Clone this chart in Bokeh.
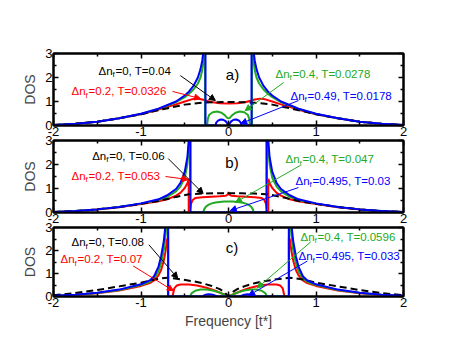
from bokeh.plotting import figure
from bokeh.layouts import column
from bokeh.models import (Range1d, LinearAxis, Label, Arrow, NormalHead, FixedTicker,
                          CustomLabelingPolicy)
from bokeh.embed import file_html
from bokeh.resources import INLINE

# ---------------- data ----------------
# Only the negative-frequency half is listed; the DOS is symmetric in frequency
# and the positive half is its mirror image.

# panel a)
w_a_black = [-2, -1.75, -1.5, -1.25, -1.0, -0.75, -0.5, -0.3, -0.15, 0]
d_a_black = [0.02, 0.07, 0.16, 0.3, 0.47, 0.68, 0.87, 0.95, 0.97, 0.98]
w_a_red = [-2, -1.75, -1.5, -1.25, -1.0, -0.8, -0.6, -0.5, -0.42, -0.36, -0.3, -0.2, -0.1, 0]
d_a_red = [0.02, 0.07, 0.16, 0.3, 0.47, 0.66, 0.88, 1.0, 1.09, 1.12, 1.08, 0.98, 0.93, 0.92]
w_a_green = [-2, -1.75, -1.5, -1.25, -1.0, -0.8, -0.6, -0.5, -0.45, -0.4, -0.35, -0.32, -0.3,
             -0.285, -0.275, -0.268, -0.268, -0.245, -0.235, -0.22, -0.18, -0.13, -0.08, -0.04, -0.015, 0]
d_a_green = [0.02, 0.07, 0.16, 0.3, 0.48, 0.69, 0.97, 1.18, 1.32, 1.5, 1.75, 2.0, 2.3,
             2.7, 3.2, 4.0, 0, 0, 0.3, 0.45, 0.55, 0.58, 0.53, 0.42, 0.32, 0.3]
w_a_blue = [-2, -1.75, -1.5, -1.25, -1.0, -0.8, -0.6, -0.5, -0.45, -0.4, -0.35, -0.32, -0.3,
            -0.28, -0.27, -0.263, -0.263, -0.15, -0.14, -0.12, -0.09, -0.06, -0.03, -0.01, 0]
d_a_blue = [0.02, 0.07, 0.16, 0.3, 0.49, 0.7, 1.0, 1.25, 1.42, 1.65, 2.0, 2.35, 2.7,
            3.3, 4.0, 6.0, 0, 0, 0.12, 0.2, 0.25, 0.24, 0.17, 0.06, 0.0]

# panel b)
w_b_black = [-2, -1.75, -1.5, -1.25, -1.0, -0.8, -0.6, -0.45, -0.3, -0.15, 0]
d_b_black = [0.02, 0.06, 0.13, 0.23, 0.36, 0.48, 0.65, 0.76, 0.79, 0.8, 0.8]
w_b_red = [-2, -1.75, -1.5, -1.25, -1.0, -0.8, -0.7, -0.6, -0.55, -0.5, -0.47, -0.455, -0.455,
           -0.445, -0.43, -0.41, -0.38, -0.3, -0.2, -0.1, -0.03, -0.01, 0]
d_b_red = [0.02, 0.05, 0.12, 0.22, 0.35, 0.47, 0.55, 0.7, 0.82, 1.02, 1.22, 1.4, 0,
           0, 0.35, 0.52, 0.6, 0.64, 0.66, 0.68, 0.7, 0.74, 0.85]
w_b_green = [-2, -1.75, -1.5, -1.25, -1.0, -0.8, -0.7, -0.6, -0.55, -0.5, -0.47, -0.455, -0.445,
             -0.44, -0.44, -0.29, -0.28, -0.26, -0.23, -0.2, -0.15, -0.1, -0.05, 0]
d_b_green = [0.02, 0.06, 0.13, 0.23, 0.37, 0.52, 0.65, 0.88, 1.08, 1.45, 2.0, 2.7, 3.5,
             5.0, 0, 0, 0.12, 0.24, 0.32, 0.37, 0.42, 0.44, 0.46, 0.46]
w_b_blue = [-2, -1.75, -1.5, -1.25, -1.0, -0.8, -0.7, -0.6, -0.55, -0.5, -0.47, -0.45, -0.44,
            -0.434, -0.434, 0]
d_b_blue = [0.02, 0.06, 0.13, 0.23, 0.38, 0.55, 0.72, 0.98, 1.22, 1.7, 2.3, 3.2, 4.5,
            6.0, 0, 0]

# panel c)
w_c_black = [-2, -1.75, -1.5, -1.25, -1.0, -0.85, -0.7, -0.55, -0.4, -0.3, -0.2, -0.1, -0.05, 0]
d_c_black = [0.05, 0.15, 0.28, 0.44, 0.6, 0.74, 0.82, 0.75, 0.66, 0.58, 0.47, 0.32, 0.2, 0.0]
w_c_red = [-2, -1.75, -1.5, -1.25, -1.0, -0.9, -0.85, -0.8, -0.77, -0.74, -0.72, -0.7, -0.69, -0.69,
           -0.64, -0.62, -0.59, -0.55, -0.45, -0.36, -0.25, -0.15, -0.07, 0]
d_c_red = [0.03, 0.07, 0.14, 0.26, 0.46, 0.58, 0.7, 0.92, 1.15, 1.55, 1.95, 2.5, 2.55, 0,
           0, 0.35, 0.48, 0.52, 0.52, 0.48, 0.38, 0.25, 0.12, 0]
w_c_green = [-2, -1.75, -1.5, -1.25, -1.0, -0.9, -0.85, -0.8, -0.77, -0.74, -0.72, -0.7, -0.69, -0.69,
             -0.44, -0.42, -0.38, -0.32, -0.25, -0.18, -0.1, -0.04, 0]
d_c_green = [0.03, 0.08, 0.15, 0.28, 0.5, 0.64, 0.78, 1.1, 1.45, 2.0, 2.6, 3.6, 5.0, 0,
             0, 0.15, 0.25, 0.3, 0.3, 0.26, 0.17, 0.07, 0]
w_c_blue = [-2, -1.75, -1.5, -1.25, -1.0, -0.9, -0.85, -0.8, -0.77, -0.74, -0.72, -0.705, -0.69, -0.69,
            -0.3, -0.28, -0.25, -0.22, -0.18, -0.15, -0.12, 0]
d_c_blue = [0.03, 0.08, 0.16, 0.3, 0.53, 0.7, 0.88, 1.3, 1.75, 2.4, 3.1, 4.2, 6.0, 0,
            0, 0.05, 0.09, 0.1, 0.08, 0.04, 0, 0]

x_ticks = [-2, -1, 0, 1, 2]
x_tick_labels = ["-2", "-1", "0", "1", "2"]
x_minor = [-1.5, -0.5, 0.5, 1.5]
y_ticks = [0, 1, 2, 3]
y_minor = [0.5, 1.5, 2.5]

panel_tags = ["a)", "b)", "c)"]
texts_a = ["=0, T=0.04", "=0.2, T=0.0326", "=0.4, T=0.0278", "=0.49, T=0.0178"]
texts_b = ["=0, T=0.06", "=0.2, T=0.053", "=0.4, T=0.047", "=0.495, T=0.03"]
texts_c = ["=0, T=0.08", "=0.2, T=0.07", "=0.4, T=0.0596", "=0.495, T=0.033"]

# ---------------- layout / styles ----------------
FONT = "Liberation Sans"
C_BLACK, C_RED, C_GREEN, C_BLUE = "#000000", "#ff0000", "#22aa22", "#0000ff"
label_colors = [C_BLACK, C_RED, C_GREEN, C_BLUE]

# annotation positions per panel: text (x, y), arrow start, arrow end (data units)
ann_a = [((-1.486, 2.29), (-0.55, 2.08), (-0.15, 1.04)),
         ((-1.794, 1.43), (-0.64, 1.42), (-0.32, 1.12)),
         ((0.537, 2.15), (0.63, 1.79), (0.19, 0.62)),
         ((0.709, 1.25), (0.80, 1.04), (0.14, 0.08))]
ann_b = [((-1.558, 2.375), (-0.69, 2.25), (-0.29, 0.79)),
         ((-1.794, 1.54), (-0.72, 1.5), (-0.46, 1.375)),
         ((0.651, 2.21), (0.82, 1.96), (0.08, 0.42)),
         ((0.766, 1.33), (0.80, 1.04), (0.02, 0.08))]
ann_c = [((-1.794, 2.35), (-0.91, 2.25), (-0.58, 0.79)),
         ((-1.92, 1.625), (-1.09, 1.33), (-0.63, 0.25)),
         ((0.823, 2.6), (0.94, 2.375), (0.33, 0.375)),
         ((0.80, 1.75), (0.90, 1.54), (0.23, 0.04))]
tag_pos = [(0.046, 2.125), (0.04, 2.1), (0.04, 2.15)]
ANN_SIZE = 11.5


def full(w, d):
    mw = [-x for x in reversed(w)]
    md = list(reversed(d))
    if w[-1] == 0:
        mw, md = mw[1:], md[1:]
    return list(w) + mw, list(d) + md


def style_axis(ax, labels=True):
    ax.axis_line_width = 2
    ax.major_tick_in = 5
    ax.major_tick_out = 0
    ax.minor_tick_in = 3
    ax.minor_tick_out = 0
    ax.major_tick_line_width = 1.5
    ax.minor_tick_line_width = 1.5
    if labels:
        ax.major_label_text_font = FONT
        ax.major_label_text_font_size = "13px"
        ax.major_label_text_color = "black"
        ax.major_label_standoff = 1
    else:
        ax.major_label_text_font_size = "0px"
        ax.major_label_standoff = 0
        ax.major_label_policy = CustomLabelingPolicy(
            code="for (const i of indices) { indices.unset(i) }\nreturn indices")


def make_panel(curves, anns, texts, tag, tagxy, top, bottom, xlabel, overlap):
    h = top + 72 + bottom
    p = figure(width=433, height=h, x_range=Range1d(-2, 2), y_range=Range1d(0, 3),
               output_backend="svg", toolbar_location=None,
               min_border_left=53, min_border_right=30,
               min_border_top=top, min_border_bottom=bottom)
    if overlap:
        p.margin = (-overlap, 0, 0, 0)
    p.border_fill_alpha = 0
    p.grid.visible = False
    p.outline_line_color = "black"
    p.outline_line_width = 2
    xt = FixedTicker(ticks=x_ticks, minor_ticks=x_minor)
    yt = FixedTicker(ticks=y_ticks, minor_ticks=y_minor)
    p.xaxis.ticker = xt
    p.yaxis.ticker = yt
    style_axis(p.xaxis[0])
    style_axis(p.yaxis[0])
    p.xaxis[0].major_label_overrides = dict(zip(x_ticks, x_tick_labels))
    p.yaxis[0].axis_label = "DOS"
    p.yaxis[0].axis_label_text_font = FONT
    p.yaxis[0].axis_label_text_font_size = "14px"
    p.yaxis[0].axis_label_text_font_style = "normal"
    p.yaxis[0].axis_label_standoff = 4
    if xlabel:
        p.xaxis[0].axis_label = xlabel
        p.xaxis[0].axis_label_text_font = FONT
        p.xaxis[0].axis_label_text_font_size = "14px"
        p.xaxis[0].axis_label_text_font_style = "normal"
        p.xaxis[0].axis_label_standoff = 3
    ra = LinearAxis(ticker=yt)
    style_axis(ra, labels=False)
    p.add_layout(ra, "right")
    ta = LinearAxis(ticker=xt)
    style_axis(ta, labels=False)
    p.add_layout(ta, "above")

    (wr, dr), (wg, dg), (wk, dk), (wb, db) = curves
    p.line(*full(wr, dr), line_color=C_RED, line_width=2)
    p.line(*full(wg, dg), line_color=C_GREEN, line_width=2)
    p.line(*full(wk, dk), line_color=C_BLACK, line_width=2, line_dash="7 4")
    p.line(*full(wb, db), line_color=C_BLUE, line_width=2)

    for (txy, s, e), rest, col in zip(anns, texts, label_colors):
        common = dict(text_font=FONT, text_color=col, text_baseline="middle", text_align="left")
        p.add_layout(Label(x=txy[0], y=txy[1], text="Δn", text_font_size=f"{ANN_SIZE}px", **common))
        p.add_layout(Label(x=txy[0], y=txy[1], text="f", text_font_size="8px",
                           x_offset=14, y_offset=-4, **common))
        p.add_layout(Label(x=txy[0], y=txy[1], text=rest, text_font_size=f"{ANN_SIZE}px",
                           x_offset=17, **common))
        p.add_layout(Arrow(x_start=s[0], y_start=s[1], x_end=e[0], y_end=e[1],
                           line_color=col, line_width=1,
                           end=NormalHead(size=6, fill_color=col, line_color=col)))
    p.add_layout(Label(x=tagxy[0], y=tagxy[1], text=tag, text_font=FONT, text_font_size="15px",
                       text_align="center", text_baseline="middle", text_color="black"))
    return p


pa = make_panel([(w_a_red, d_a_red), (w_a_green, d_a_green), (w_a_black, d_a_black), (w_a_blue, d_a_blue)],
                ann_a, texts_a, panel_tags[0], tag_pos[0], 53, 13, None, 0)
pb = make_panel([(w_b_red, d_b_red), (w_b_green, d_b_green), (w_b_black, d_b_black), (w_b_blue, d_b_blue)],
                ann_b, texts_b, panel_tags[1], tag_pos[1], 9, 13, None, 7)
pc = make_panel([(w_c_red, d_c_red), (w_c_green, d_c_green), (w_c_black, d_c_black), (w_c_blue, d_c_blue)],
                ann_c, texts_c, panel_tags[2], tag_pos[2], 9, 32, "Frequency [t*]", 7)

layout = column(pa, pb, pc, spacing=0)
open("out.html", "w").write(file_html(layout, INLINE))
